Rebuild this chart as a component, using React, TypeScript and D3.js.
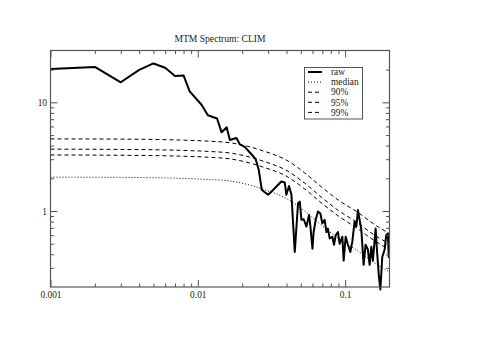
import { useEffect, useRef } from 'react'
import * as d3 from 'd3'

const title = 'MTM Spectrum: CLIM'

// raw spectrum
const rawFreq = [
  0.001, 0.002, 0.003, 0.004, 0.005, 0.006, 0.007, 0.008, 0.0088, 0.0106,
  0.0117, 0.0135, 0.0145, 0.0157, 0.0165, 0.0183, 0.0193, 0.0208, 0.0228, 0.0247,
  0.0259, 0.0272, 0.03, 0.0324, 0.0369, 0.0389, 0.0399, 0.0416, 0.0432, 0.0455,
  0.0479, 0.0492, 0.0505, 0.0523, 0.0546, 0.0569, 0.0581, 0.06, 0.0611, 0.0631,
  0.0654, 0.0679, 0.07, 0.0726, 0.0746, 0.0764, 0.0785, 0.0819, 0.084, 0.0863,
  0.0894, 0.0918, 0.0957, 0.0977, 0.1008, 0.1045, 0.1084, 0.1118, 0.1159, 0.1191,
  0.1222, 0.1254, 0.1288, 0.1335, 0.1376, 0.1428, 0.1466, 0.1506, 0.1543, 0.161,
  0.1643, 0.1695, 0.1734, 0.1787, 0.1853, 0.19, 0.195, 0.198,
]
const rawPower = [
  20.3, 21.2, 15.3, 19.9, 22.8, 20.8, 17.5, 17.7, 12.6, 9.5,
  7.6, 7.1, 5.3, 5.9, 4.5, 4.7, 4.1, 3.9, 3.4, 3.0,
  2.4, 1.56, 1.41, 1.56, 1.87, 1.83, 1.41, 1.7, 1.41, 0.42,
  1.18, 1.22, 0.83, 0.84, 0.72, 0.92, 0.72, 0.45, 0.64, 0.83,
  0.99, 0.95, 0.77, 0.83, 0.64, 0.69, 0.56, 0.58, 0.49, 0.6,
  0.64, 0.5, 0.58, 0.35, 0.58, 0.49, 0.42, 0.52, 0.8, 0.72,
  1.02, 0.83, 0.67, 0.32, 0.49, 0.44, 0.32, 0.47, 0.35, 0.69,
  0.44, 0.25, 0.19, 0.38, 0.44, 0.6, 0.62, 0.37,
]

// red-noise background and confidence levels
const bgFreq = [0.001, 0.003, 0.0075, 0.012, 0.0165, 0.0277, 0.041, 0.053, 0.07, 0.09, 0.125, 0.15, 0.2]
const median = [2.05, 2.04, 2.0, 1.95, 1.89, 1.59, 1.28, 1.0, 0.73, 0.56, 0.42, 0.35, 0.275]
const conf90 = [3.28, 3.26, 3.2, 3.12, 3.02, 2.54, 2.05, 1.6, 1.17, 0.9, 0.67, 0.56, 0.44]
const conf95 = [3.71, 3.69, 3.62, 3.53, 3.42, 2.88, 2.32, 1.81, 1.32, 1.01, 0.76, 0.63, 0.5]
const conf99 = [4.61, 4.59, 4.5, 4.39, 4.25, 3.58, 2.88, 2.25, 1.64, 1.26, 0.95, 0.79, 0.62]

const xMajor = [0.001, 0.01, 0.1]
const xMinor = [0.002, 0.003, 0.004, 0.005, 0.006, 0.007, 0.008, 0.009, 0.02, 0.03, 0.04, 0.05, 0.06, 0.07, 0.08, 0.09]
const yMajor = [1, 10]
const yMinor = [0.3, 0.4, 0.5, 0.6, 0.7, 0.8, 0.9, 2, 3, 4, 5, 6, 7, 8, 9, 20]

const seriesNames = ['raw', 'median', '90%', '95%', '99%']

const W = 479
const H = 338
const font = '"Liberation Serif", "Times New Roman", serif'
const axisColor = '#555'

const App = () => {
  const ref = useRef<SVGSVGElement>(null)

  useEffect(() => {
    if (!ref.current) return
    const svg = d3.select(ref.current)
    svg.selectAll('*').remove()

    const left = 50.5, right = 389.5, top = 50.5, bottom = 287
    const x = d3.scaleLog().domain([0.001, 0.2]).range([left, right])
    const y = d3.scaleLog().domain([0.2, 30]).range([bottom, top])

    const series = [
      { name: seriesNames[0], f: rawFreq, v: rawPower, width: 2, dash: null, curve: d3.curveLinear },
      { name: seriesNames[1], f: bgFreq, v: median, width: 1, dash: '1,2', curve: d3.curveMonotoneX },
      { name: seriesNames[2], f: bgFreq, v: conf90, width: 1, dash: '4,3', curve: d3.curveMonotoneX },
      { name: seriesNames[3], f: bgFreq, v: conf95, width: 1, dash: '4,3', curve: d3.curveMonotoneX },
      { name: seriesNames[4], f: bgFreq, v: conf99, width: 1, dash: '4,3', curve: d3.curveMonotoneX },
    ]

    // lines
    series.slice().reverse().forEach(s => {
      const line = d3.line<number>()
        .x((d, i) => x(s.f[i]))
        .y(d => y(d))
        .curve(s.curve)
      svg.append('path')
        .attr('d', line(s.v))
        .attr('fill', 'none')
        .attr('stroke', '#000')
        .attr('stroke-width', s.width)
        .attr('stroke-linejoin', 'round')
        .attr('stroke-dasharray', s.dash)
    })

    // axes, ticks pointing inward
    const addAxis = (axis, tx, ty) => {
      const g = svg.append('g').attr('transform', `translate(${tx},${ty})`).call(axis)
      g.select('.domain').remove()
      g.selectAll('line').attr('stroke', axisColor)
      g.selectAll('text')
        .attr('fill', '#222')
        .style('font-family', font)
        .style('font-size', '9.4px')
      return g
    }
    const fmt = d => String(d)
    addAxis(d3.axisBottom(x).tickValues(xMajor).tickSize(-7).tickPadding(4).tickFormat(fmt), 0, bottom)
    addAxis(d3.axisBottom(x).tickValues(xMinor).tickSize(-3.5).tickFormat(() => ''), 0, bottom)
    addAxis(d3.axisTop(x).tickValues(xMajor).tickSize(-7).tickFormat(() => ''), 0, top)
    addAxis(d3.axisTop(x).tickValues(xMinor).tickSize(-3.5).tickFormat(() => ''), 0, top)
    addAxis(d3.axisLeft(y).tickValues(yMajor).tickSize(-7).tickPadding(3.5).tickFormat(fmt), left, 0)
    addAxis(d3.axisLeft(y).tickValues(yMinor).tickSize(-3.5).tickFormat(() => ''), left, 0)
    addAxis(d3.axisRight(y).tickValues(yMajor).tickSize(-7).tickFormat(() => ''), right, 0)
    addAxis(d3.axisRight(y).tickValues(yMinor).tickSize(-3.5).tickFormat(() => ''), right, 0)

    svg.append('rect')
      .attr('x', left).attr('y', top)
      .attr('width', right - left).attr('height', bottom - top)
      .attr('fill', 'none')
      .attr('stroke', axisColor)
      .attr('stroke-width', 1.2)

    svg.append('text')
      .text(title)
      .attr('x', (left + right) / 2)
      .attr('y', 42)
      .attr('text-anchor', 'middle')
      .attr('fill', '#222')
      .style('font-family', font)
      .style('font-size', '9.6px')

    // legend
    const lg = svg.append('g')
    lg.append('rect')
      .attr('x', 304.5).attr('y', 67.5)
      .attr('width', 58).attr('height', 51.5)
      .attr('fill', '#fff')
      .attr('stroke', axisColor)
    series.forEach((s, i) => {
      const yy = 72 + i * 10.1
      lg.append('line')
        .attr('x1', 308).attr('x2', 322)
        .attr('y1', yy).attr('y2', yy)
        .attr('stroke', '#000')
        .attr('stroke-width', s.width)
        .attr('stroke-dasharray', s.dash)
      lg.append('text')
        .text(s.name)
        .attr('x', 331)
        .attr('y', yy)
        .attr('dy', '0.35em')
        .attr('fill', '#222')
        .style('font-family', font)
        .style('font-size', '9.4px')
    })
  }, [])

  return (
    <svg
      ref={ref}
      width={W}
      height={H}
      style={{ position: 'absolute', left: 0, top: 0, background: '#fff' }}
    />
  )
}

export default App
